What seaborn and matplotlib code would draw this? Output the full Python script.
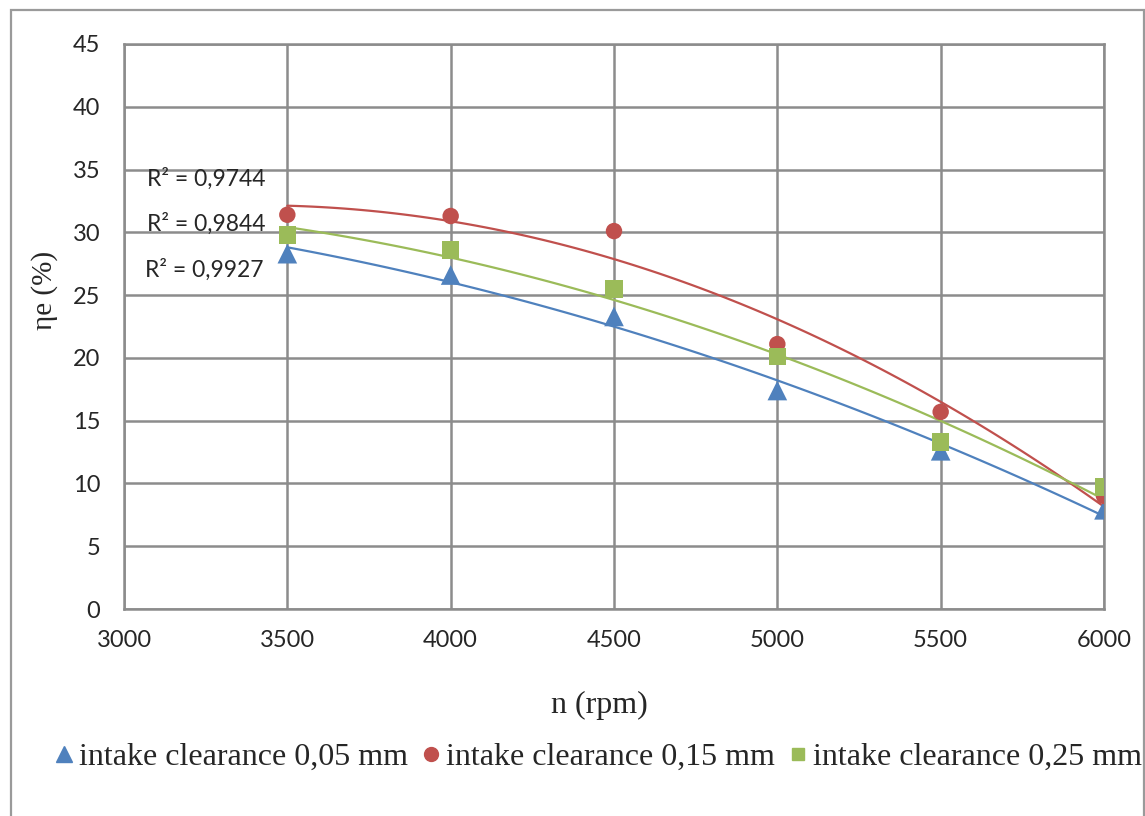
import numpy as np
import pandas as pd
import matplotlib

matplotlib.use("Agg")
import matplotlib.pyplot as plt
import seaborn as sns
from matplotlib.patches import Rectangle
from matplotlib.lines import Line2D

# data
rpm = [3500, 4000, 4500, 5000, 5500, 6000]
eff_005 = [28.3, 26.6, 23.3, 17.4, 12.6, 7.9]
eff_015 = [31.4, 31.3, 30.1, 21.1, 15.7, 9.0]
eff_025 = [29.8, 28.6, 25.5, 20.1, 13.3, 9.7]
labels = [
    "intake clearance 0,05 mm",
    "intake clearance 0,15 mm",
    "intake clearance 0,25 mm",
]
r2_texts = ["R² = 0,9744", "R² = 0,9844", "R² = 0,9927"]
r2_pos = [(3070, 34.3), (3070, 30.7), (3065, 27.0)]

colors = ["#4F81BD", "#C0504D", "#9BBB59"]
markers = ["^", "o", "s"]
msizes = [200, 140, 160]

sns.set_style("white")
plt.rcParams["font.family"] = ["Lato", "DejaVu Sans"]

fig = plt.figure(figsize=(11.45, 8.16), dpi=100)
ax = fig.add_axes([124 / 1145, 1 - 609 / 816, 980 / 1145, 565 / 816])

# outer chart frame
fig.patches.append(
    Rectangle((11 / 1145, -0.01), 1133 / 1145, 1 - 10 / 816 + 0.01,
              transform=fig.transFigure, fill=False, edgecolor="#9a9a9a", lw=1.6)
)

series = [eff_005, eff_015, eff_025]
for vals, c, m, s in zip(series, colors, markers, msizes):
    df = pd.DataFrame({"rpm": rpm, "eff": vals})
    sns.regplot(data=df, x="rpm", y="eff", order=2, ci=None, scatter=False,
                ax=ax, line_kws={"color": c, "lw": 1.6, "zorder": 3})
    sns.scatterplot(data=df, x="rpm", y="eff", marker=m, s=s, color=c,
                    edgecolor="none", ax=ax, zorder=4)

ax.set_xlim(3000, 6000)
ax.set_ylim(0, 45)
ax.set_xticks(np.arange(3000, 6001, 500))
ax.set_yticks(np.arange(0, 46, 5))
ax.grid(True, color="#8c8c8c", lw=1.8)
ax.set_axisbelow(True)
for sp in ax.spines.values():
    sp.set_color("#8c8c8c")
    sp.set_linewidth(1.8)
ax.tick_params(axis="both", length=0, labelsize=17)
ax.tick_params(axis="y", pad=17)
ax.tick_params(axis="x", pad=15)

ax.set_xlabel("n (rpm)", family="Liberation Serif", fontsize=23)
ax.set_ylabel("ηe (%)", family="Liberation Serif", fontsize=21)
ax.xaxis.set_label_coords((599 - 124) / 980, -(705 - 609) / 565)
ax.yaxis.set_label_coords(-(124 - 45) / 980, (609 - 290) / 565)
ax.xaxis.label.set_va("center")
ax.yaxis.label.set_va("center")

for t, (x, y) in zip(r2_texts, r2_pos):
    ax.text(x, y, t, fontsize=16.5, va="center", ha="left")

handles = [
    Line2D([], [], ls="none", marker=m, color=c, markersize=ms)
    for m, c, ms in zip(markers, colors, [11, 10, 9])
]
fig.legend(handles, labels, loc="center", bbox_to_anchor=(598 / 1145, 1 - 757 / 816),
           ncol=3, frameon=False, handlelength=0.6, handletextpad=0.17,
           columnspacing=0.42, borderpad=0, borderaxespad=0,
           prop={"family": "Liberation Serif", "size": 23})

fig.savefig("out.png", dpi=100)
